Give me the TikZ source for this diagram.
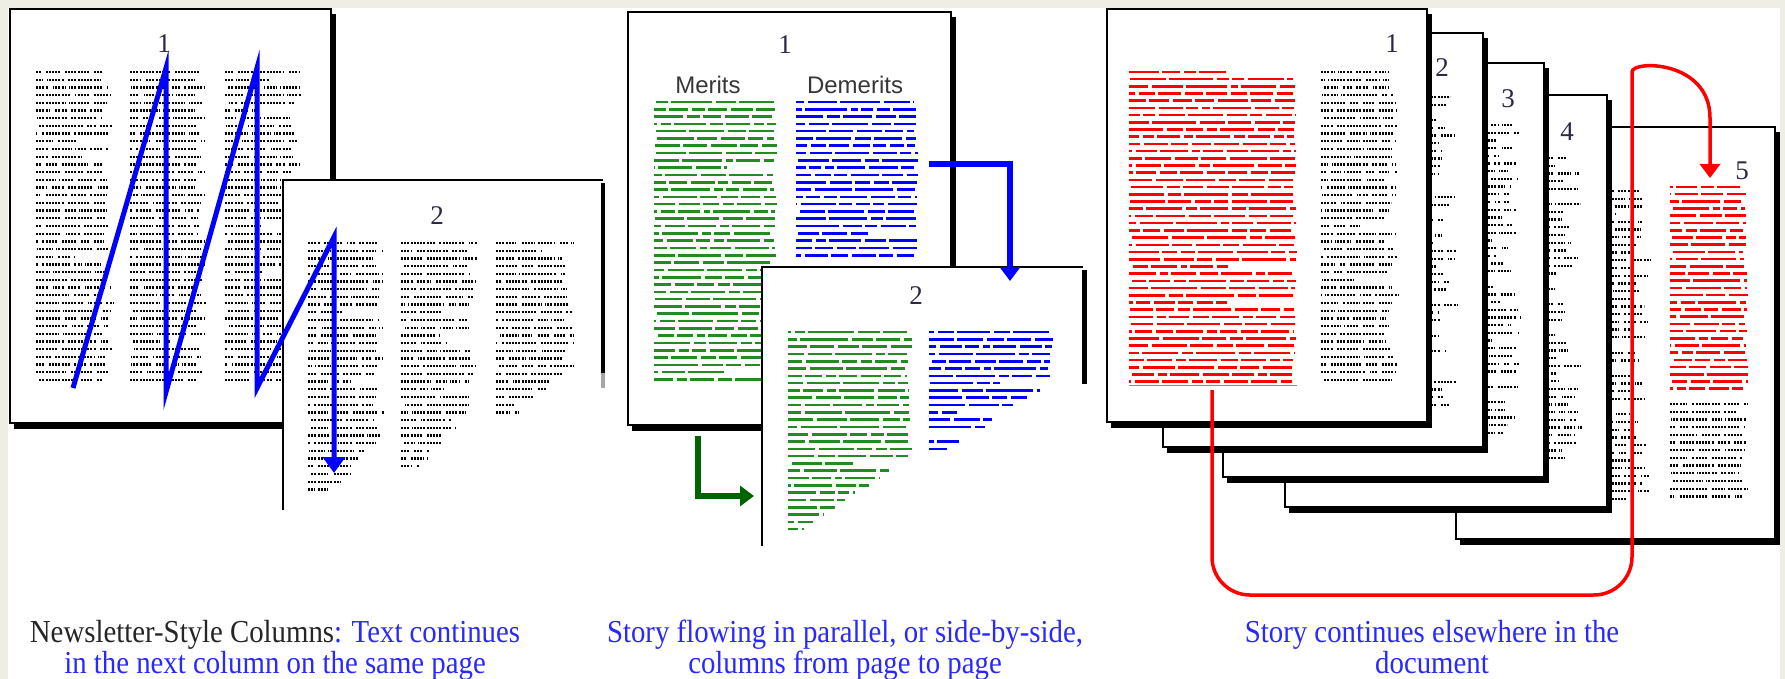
\documentclass[tikz,border=0pt]{standalone}
\usepackage{fontspec}
\setmainfont{Liberation Serif}
\newfontfamily\sansf{Liberation Sans}
\newfontfamily\capfont[FakeStretch=0.9]{Liberation Serif}
\usetikzlibrary{arrows.meta}
\definecolor{bgc}{RGB}{238,238,229}
\definecolor{capblue}{RGB}{40,40,255}
\definecolor{numc}{RGB}{45,40,70}
\definecolor{txtgreen}{RGB}{34,139,34}
\definecolor{arrgreen}{RGB}{0,100,0}
\definecolor{labgray}{RGB}{55,55,55}
\tikzset{
  pagebox/.style={fill=white, draw=black, line width=1.4pt},
  pageshadow/.style={fill=black},
  pageedge/.style={draw=black, line width=1.4pt},
  dots main/.style={black, line width=2.3pt, dash pattern=on 2pt off 1.2pt},
  dots gap/.style={white, line width=3.3pt},
  red main/.style={red, line width=2.6pt},
  red gap/.style={white, line width=3.6pt},
  green main/.style={txtgreen, line width=2.6pt},
  green gap/.style={white, line width=3.6pt},
  blue main/.style={blue, line width=2.6pt},
  blue gap/.style={white, line width=3.6pt},
  pnum/.style={font=\fontsize{27}{27}\selectfont, text=numc, anchor=base, inner sep=0pt},
  captext/.style={font=\capfont\fontsize{32}{28}\selectfont, text=capblue, anchor=base, inner sep=0pt, align=center},
  head/.style={font=\sansf\fontsize{24}{24}\selectfont, text=labgray, anchor=base, inner sep=0pt},
  zigflow/.style={blue, line width=5pt, line join=miter, -{Triangle[length=16pt,width=22pt]}},
  midflow/.style={line width=6.5pt, -{Triangle[length=14pt,width=20pt]}},
  redflow/.style={red, line width=3.5pt, -{Triangle[length=14pt,width=20pt]}},
}
% #1 style prefix, #2 x1, #3 x2, #4 y1, #5 y2, #6 row step, #7 ragged, #8 taper start y, #9 taper slope
\newcommand\txtcol[9]{%
  \pgfmathtruncatemacro\nr{(#5-#4)/#6}%
  \foreach \i in {0,...,\nr}{%
    \pgfmathsetmacro\yy{#4+\i*#6}%
    \pgfmathsetmacro\xe{#3-rnd*#7-max(0,\yy-#8)*#9-(rnd<0.07)*(#3-#2)*0.4}%
    \pgfmathtruncatemacro\ok{(\xe>(#2+3))?1:0}%
    \ifnum\ok=1
      \pgfmathsetmacro\wa{10+rnd*34}%
      \pgfmathsetmacro\wb{8+rnd*30}%
      \pgfmathsetmacro\wc{12+rnd*36}%
      \pgfmathsetmacro\wd{6+rnd*20}%
      \pgfmathsetmacro\ph{rnd*60}%
      \draw[#1 main] (#2,\yy) -- (\xe,\yy);
      \draw[#1 gap, dash pattern=on 3pt off \wa pt on 4pt off \wb pt on 3pt off \wc pt on 4pt off \wd pt, dash phase=\ph pt] (#2,\yy) -- (\xe,\yy);
    \fi}}
\newcommand\pg[4]{%
  \fill[pageshadow] (#1+4,#2+5) rectangle (#3+5,#4+6);
  \draw[pagebox] (#1,#2) rectangle (#3,#4);}
\begin{document}
\begin{tikzpicture}[x=1pt,y=-1pt]
\pgfmathsetseed{7}
\useasboundingbox (0,0) rectangle (1785,679);
\fill[bgc] (0,0) rectangle (1785,679);
\fill[white] (8,8) rectangle (1780,679);

% ================= LEFT GROUP =================
\pg{10}{9}{331}{423}
\node[pnum] (l1) at (164,53) {1};
\txtcol{dots}{36}{113}{72}{380}{7.7}{12}{2000}{0}
\txtcol{dots}{130}{206}{72}{380}{7.7}{12}{2000}{0}
\txtcol{dots}{225}{302}{72}{380}{7.7}{12}{2000}{0}
% page 2 (open at bottom)
\fill[white] (283,180) rectangle (606,515);
\draw[pageedge] (283,510) -- (283,180) -- (603,180);
\fill[black] (600.5,183) rectangle (605,373);
\fill[black!35] (600.5,373) rectangle (605,388);
\node[pnum] (l2) at (437,224) {2};
\txtcol{dots}{308}{384}{243}{497}{7.7}{12}{440}{1.0}
\txtcol{dots}{401}{478}{243}{473}{7.7}{12}{400}{0.8}
\txtcol{dots}{496}{575}{243}{423}{7.7}{12}{370}{1.3}
% zigzag flow
\coordinate (z0) at (73,388);
\coordinate (z1) at (166,68);
\coordinate (z2) at (166,392);
\coordinate (z3) at (257,68);
\coordinate (z4) at (257,388);
\coordinate (z5) at (334,237);
\coordinate (z6) at (334,473);
\draw[zigflow] (z0) -- (z1) -- (z2) -- (z3) -- (z4) -- (z5) -- (z6);

% ================= MIDDLE GROUP =================
\pg{628}{12}{951}{425}
\node[pnum] (m1) at (785,54) {1};
\node[head] (merits) at (708,94) {Merits};
\node[head] (demerits) at (855,94) {Demerits};
\txtcol{green}{654}{778}{102}{384}{7.3}{6}{2000}{0}
\txtcol{blue}{796}{919}{102}{262}{7.3}{6}{2000}{0}
% page 2 (open at bottom)
\fill[white] (762,267) rectangle (1088,548);
\draw[pageedge] (762,546) -- (762,267) -- (1083,267);
\fill[black] (1082,270) rectangle (1086.5,384);
\node[pnum] (m2) at (916,304) {2};
\txtcol{green}{788}{912}{332}{532}{7.3}{6}{458}{1.5}
\txtcol{blue}{929}{1053}{332}{452}{7.3}{6}{382}{1.5}
% flows
\coordinate (b0) at (929,164);
\coordinate (b1) at (1010,164);
\coordinate (b2) at (1010,281);
\draw[midflow, blue] (b0) -- (b1) -- (b2);
\coordinate (g0) at (698,436);
\coordinate (g1) at (698,496);
\coordinate (g2) at (754,496);
\draw[midflow, arrgreen] (g0) -- (g1) -- (g2);

% ================= RIGHT GROUP =================
% page 5
\pg{1456}{127}{1775}{539}
\node[pnum] (r5) at (1742,180) {5};
\txtcol{dots}{1570}{1652}{191}{499}{7.7}{22}{2000}{0}
\txtcol{red}{1670}{1748}{187}{389}{7.2}{5}{2000}{0}
\txtcol{dots}{1670}{1748}{404}{499}{7.7}{14}{2000}{0}
% page 4
\pg{1285}{95}{1607}{507}
\node[pnum] (r4) at (1567,141) {4};
\txtcol{dots}{1500}{1582}{158}{465}{7.7}{28}{2000}{0}
% page 3
\pg{1223}{63}{1544}{477}
\node[pnum] (r3) at (1508,108) {3};
\txtcol{dots}{1440}{1521}{125}{433}{7.7}{28}{2000}{0}
% page 2
\pg{1163}{33}{1483}{447}
\node[pnum] (r2) at (1442,77) {2};
\txtcol{dots}{1380}{1458}{97}{405}{7.7}{28}{2000}{0}
% page 1
\pg{1107}{9}{1427}{422}
\node[pnum] (r1) at (1392,53) {1};
\txtcol{red}{1129}{1297}{72}{382}{7.2}{5}{2000}{0}
\draw[black!45, line width=1pt] (1129,385) -- (1297,385);
\txtcol{dots}{1321}{1398}{72}{381}{7.7}{14}{2000}{0}
% red loop
\coordinate (q0) at (1212,390);
\coordinate (q1) at (1212,595);
\coordinate (q2) at (1632,595);
\coordinate (q3) at (1632,110);
\coordinate (q35) at (1710,118);
\coordinate (q4) at (1710,178);
\draw[redflow, rounded corners=38pt] (q0) -- (q1) -- (q2) -- (q3) [sharp corners] .. controls (1632,60) and (1710,60) .. (q35) -- (q4);

% ================= CAPTIONS =================
\node[captext] (c1) at (275,673) {\textcolor{black!85}{Newsletter-Style Columns}: Text continues\\in the next column on the same page};
\node[captext] (c2) at (845,673) {Story flowing in parallel, or side-by-side,\\columns from page to page};
\node[captext] (c3) at (1432,673) {Story continues elsewhere in the\\document};
\end{tikzpicture}
\end{document}
